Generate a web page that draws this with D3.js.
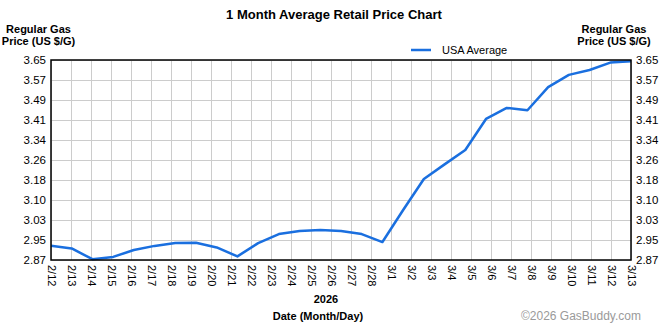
<!DOCTYPE html>
<html>
<head>
<meta charset="utf-8">
<script src="https://cdn.jsdelivr.net/npm/d3@7"></script>
<style>
  html, body { margin: 0; padding: 0; background: #fff; }
  svg { display: block; font-family: "Liberation Sans", Arial, sans-serif; }
</style>
</head>
<body>
<svg id="chart" width="670" height="325"></svg>
<script>
// ---- data ----
const dateLabels = ["2/12","2/13","2/14","2/15","2/16","2/17","2/18","2/19","2/20","2/21","2/22","2/23","2/24","2/25","2/26","2/27","2/28","3/1","3/2","3/3","3/4","3/5","3/6","3/7","3/8","3/9","3/10","3/11","3/12","3/13"];
const usaAverage = [2.926,2.915,2.873,2.882,2.909,2.925,2.936,2.937,2.919,2.884,2.936,2.971,2.983,2.987,2.983,2.971,2.940,3.065,3.186,3.243,3.299,3.420,3.463,3.454,3.544,3.592,3.611,3.640,3.645];
const yTickLabels = ["2.87","2.95","3.03","3.10","3.18","3.26","3.34","3.41","3.49","3.57","3.65"];
const yMin = 2.87, yMax = 3.65;
const seriesName = "USA Average";
const yearLabel = "2026";

const svg = d3.select("#chart");
const W = 670, H = 325;
const m = { left: 51, right: 631, top: 60, bottom: 260 };

svg.append("rect").attr("width", W).attr("height", H).attr("fill", "#fff");

const xLab = d3.scalePoint().domain(dateLabels).range([m.left, m.right]);
const xData = d3.scalePoint().domain(d3.range(usaAverage.length)).range([m.left, m.right]);
const y = d3.scaleLinear().domain([yMin, yMax]).range([m.bottom, m.top]);
const yTicks = yTickLabels.map((l, i) => yMin + i * (yMax - yMin) / (yTickLabels.length - 1));

// grid
const g = svg.append("g");
g.selectAll(".vg").data(dateLabels).join("line")
  .attr("x1", d => xLab(d)).attr("x2", d => xLab(d))
  .attr("y1", m.top).attr("y2", m.bottom)
  .attr("stroke", "#cccccc").attr("stroke-width", 1).attr("shape-rendering", "crispEdges");
g.selectAll(".hg").data(yTicks).join("line")
  .attr("x1", m.left).attr("x2", m.right)
  .attr("y1", d => y(d)).attr("y2", d => y(d))
  .attr("stroke", "#cccccc").attr("stroke-width", 1).attr("shape-rendering", "crispEdges");

// line
const line = d3.line().x((d, i) => xData(i)).y(d => y(d));
svg.append("path").datum(usaAverage)
  .attr("d", line).attr("fill", "none")
  .attr("stroke", "#1a6fdf").attr("stroke-width", 2.5)
  .attr("stroke-linejoin", "round");

// border
svg.append("rect")
  .attr("x", m.left).attr("y", m.top)
  .attr("width", m.right - m.left).attr("height", m.bottom - m.top)
  .attr("fill", "none").attr("stroke", "#000").attr("stroke-width", 1.5);

// y axes
const yAxisL = d3.axisLeft(y).tickValues(yTicks).tickFormat((d, i) => yTickLabels[i]).tickSize(0).tickPadding(5);
const yAxisR = d3.axisRight(y).tickValues(yTicks).tickFormat((d, i) => yTickLabels[i]).tickSize(0).tickPadding(5);
const axL = svg.append("g").attr("transform", `translate(${m.left},0)`).call(yAxisL);
const axR = svg.append("g").attr("transform", `translate(${m.right},0)`).call(yAxisR);
[axL, axR].forEach(a => {
  a.select(".domain").remove();
  a.selectAll("text").attr("font-size", 11.5).attr("fill", "#000")
    .attr("font-family", "Liberation Sans, Arial, sans-serif");
});

// x axis
const xAxis = d3.axisBottom(xLab).tickSize(0).tickPadding(0);
const axX = svg.append("g").attr("transform", `translate(0,${m.bottom})`).call(xAxis);
axX.select(".domain").remove();
axX.selectAll("text")
  .attr("font-size", 11).attr("fill", "#000")
  .attr("font-family", "Liberation Sans, Arial, sans-serif")
  .attr("text-anchor", "start")
  .attr("dy", null).attr("y", null)
  .attr("transform", "translate(-4,5) rotate(90)");

// titles
svg.append("text").attr("x", 334).attr("y", 19).attr("text-anchor", "middle")
  .attr("font-size", 13).attr("font-weight", "bold").text("1 Month Average Retail Price Chart");

function yTitle(cx) {
  const t = svg.append("text").attr("text-anchor", "middle").attr("font-size", 11).attr("font-weight", "bold");
  t.append("tspan").attr("x", cx).attr("y", 33).text("Regular Gas");
  t.append("tspan").attr("x", cx).attr("y", 45).text("Price (US $/G)");
}
yTitle(38.5);
yTitle(614);

svg.append("text").attr("x", 326).attr("y", 303).attr("text-anchor", "middle")
  .attr("font-size", 11).attr("font-weight", "bold").text(yearLabel);
svg.append("text").attr("x", 318).attr("y", 320).attr("text-anchor", "middle")
  .attr("font-size", 11).attr("font-weight", "bold").text("Date (Month/Day)");

// legend
svg.append("line").attr("x1", 411).attr("x2", 431).attr("y1", 50).attr("y2", 50)
  .attr("stroke", "#1a6fdf").attr("stroke-width", 2.5);
svg.append("text").attr("x", 442).attr("y", 54).attr("font-size", 11).text(seriesName);

// copyright
svg.append("text").attr("x", 641).attr("y", 320).attr("text-anchor", "end")
  .attr("font-size", 12).attr("fill", "#9a9a9a").text("©2026 GasBuddy.com");
</script>
</body>
</html>
